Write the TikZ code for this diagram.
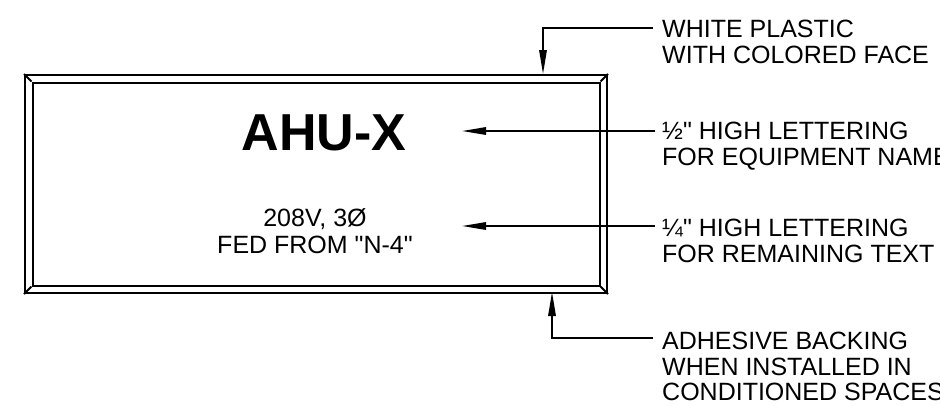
\documentclass[tikz,border=0pt]{standalone}
\usepackage{fontspec}
\setmainfont{Liberation Sans}
\newfontfamily\labfont{Liberation Sans}
\usetikzlibrary{arrows.meta}
\begin{document}
\begin{tikzpicture}[x=1pt,y=-1pt,
  frame/.style={line width=2pt},
  leader/.style={line width=1.5pt},
  tipped/.style={-{Triangle[length=24pt,width=7.5pt]}},
  lbl/.style={anchor=north west, inner sep=0pt, align=left, font=\labfont\fontsize{25}{25.5}\selectfont},
]
\useasboundingbox (0,0) rectangle (940,405);
% plate
\node[draw, frame, minimum width=582pt, minimum height=218pt, inner sep=0pt, anchor=north west] (plate) at (24,74) {};
\node[draw, frame, minimum width=567pt, minimum height=203pt, inner sep=0pt, anchor=center] (face) at (plate.center) {};
\draw[frame] (plate.north west) -- (face.north west);
\draw[frame] (plate.north east) -- (face.north east);
\draw[frame] (plate.south west) -- (face.south west);
\draw[frame] (plate.south east) -- (face.south east);
% plate texts
\node[anchor=base, inner sep=0pt, font=\labfont\bfseries\fontsize{52}{52}\selectfont] (name) at (324,150) {AHU-X};
\node[anchor=north, inner sep=0pt, align=center, font=\labfont\fontsize{25}{27}\selectfont] (info) at (315,208) {208V, 3Ø\\FED FROM "N-4"};
% labels
\node[lbl] (lblA) at (662,20) {WHITE PLASTIC\\WITH COLORED FACE};
\node[lbl] (lblB) at (662,122) {½" HIGH LETTERING\\FOR EQUIPMENT NAME};
\node[lbl] (lblC) at (662,219) {¼" HIGH LETTERING\\FOR REMAINING TEXT};
\node[lbl] (lblD) at (662,332) {ADHESIVE BACKING\\WHEN INSTALLED IN\\CONDITIONED SPACES};
% leader coordinates
\coordinate (aEnd) at (653,28);
\coordinate (aBend) at (543,28);
\coordinate (aTip) at (543,74);
\coordinate (bEnd) at (655,131);
\coordinate (bTip) at (462,131);
\coordinate (cEnd) at (655,226);
\coordinate (cTip) at (462,226);
\coordinate (dEnd) at (653,338);
\coordinate (dBend) at (552,338);
\coordinate (dTip) at (552,292);
% leaders
\draw[leader, tipped] (aEnd) -- (aBend) -- (aTip);
\draw[leader, tipped] (bEnd) -- (bTip);
\draw[leader, tipped] (cEnd) -- (cTip);
\draw[leader, tipped] (dEnd) -- (dBend) -- (dTip);
\end{tikzpicture}
\end{document}
